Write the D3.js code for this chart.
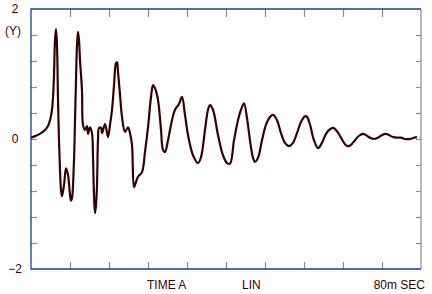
<!DOCTYPE html>
<html>
<head>
<meta charset="utf-8">
<script src="https://cdn.jsdelivr.net/npm/d3@7"></script>
<style>
  body { margin: 0; background: #fff; }
  text { font-family: "Liberation Sans", Arial, sans-serif; font-size: 12px; fill: #3a0000; }
</style>
</head>
<body>
<div id="chart"></div>
<script>
// time in ms
var times = [0, 1.03, 2.05, 2.87, 3.49, 3.90, 4.31, 4.51, 4.72, 4.92, 5.13, 5.33, 5.54, 5.74, 5.95,
    6.15, 6.36, 6.77, 7.18, 7.59, 8.00, 8.21, 8.41, 8.82, 9.03, 9.23, 9.44, 9.64, 9.85, 10.05,
    10.46, 10.67, 11.08, 11.49, 11.69, 12.10, 12.51, 12.72, 12.92, 13.13, 13.33, 13.54, 13.74, 13.95,
    14.36, 14.56, 15.18, 15.79, 16.21, 16.62, 17.03, 17.44, 17.64, 17.85, 18.26, 18.67, 19.28, 19.90,
    20.31, 20.72, 21.13, 21.54, 21.95, 22.77, 23.38, 24.00, 24.62, 25.03, 25.44, 26.05, 26.67, 27.08,
    27.49, 28.10, 28.92, 29.54, 30.36, 30.97, 31.59, 32.21, 33.23, 34.26, 34.87, 35.69, 36.31, 36.72,
    37.33, 38.36, 39.38, 40.21, 40.82, 41.64, 42.46, 43.08, 43.69, 44.31, 44.92, 45.54, 45.95, 46.56,
    47.38, 48.21, 49.03, 49.64, 50.46, 51.28, 52.10, 52.92, 53.74, 54.56, 55.38, 56.21, 56.62, 57.23,
    58.05, 58.87, 59.69, 60.51, 61.33, 61.95, 62.77, 63.59, 64.41, 65.03, 65.64, 66.46, 67.28, 68.10,
    68.72, 69.54, 70.36, 71.18, 72.00, 72.82, 73.44, 74.26, 75.08, 75.90, 76.72, 77.74, 78.56, 79.18];

// signal (Y)
var values = [0.02, 0.05, 0.09, 0.14, 0.20, 0.29, 0.45, 0.63, 0.98, 1.52, 1.69, 1.45, 0.60, -0.02, -0.48,
    -0.78, -0.88, -0.71, -0.45, -0.55, -0.86, -0.95, -0.91, -0.32, 0.29, 0.91, 1.45, 1.65, 1.52, 1.22,
    0.75, 0.22, 0.14, 0.20, 0.08, 0.18, 0.09, -0.28, -0.86, -1.14, -1.02, -0.71, -0.02, 0.17,
    0.17, 0.09, 0.23, 0.03, 0.22, 0.45, 0.83, 1.17, 1.18, 1.03, 0.68, 0.34, 0.11, 0.18,
    0.09, -0.09, -0.74, -0.66, -0.58, -0.51, -0.20, 0.18, 0.65, 0.83, 0.78, 0.60, 0.14, -0.17,
    -0.20, -0.02, 0.29, 0.45, 0.54, 0.65, 0.37, 0.06, -0.25, -0.37, -0.28, 0.14, 0.45, 0.52,
    0.45, 0.06, -0.25, -0.37, -0.38, -0.02, 0.29, 0.45, 0.55, 0.32, -0.02, -0.29, -0.35, -0.29,
    -0.02, 0.22, 0.34, 0.37, 0.29, 0.09, -0.06, -0.11, -0.06, 0.09, 0.26, 0.35, 0.34, 0.22,
    -0.02, -0.14, -0.06, 0.08, 0.15, 0.17, 0.12, 0.02, -0.08, -0.11, -0.09, -0.02, 0.05, 0.08,
    0.06, 0.02, 0.00, 0.02, 0.06, 0.08, 0.06, 0.03, 0.02, 0.02, 0.00, 0.00, 0.02, 0.03];

var yLabels = ["2", "0", "-2"];

var svgWidth = 432;
var svgHeight = 294;
var margin = {top: 9, right: 11, bottom: 25, left: 31};
var width = svgWidth - margin.left - margin.right;
var height = svgHeight - margin.top - margin.bottom;

var svg = d3.select("#chart")
    .append("svg")
    .attr("width", svgWidth)
    .attr("height", svgHeight);

var g = svg.append("g")
    .attr("transform", `translate(${margin.left}, ${margin.top})`);

var x = d3.scaleLinear().domain([0, 80]).range([0, width]);
var y = d3.scaleLinear().domain([-2, 2]).range([height, 0]);

var xTicks = d3.range(8, 80, 8);
var yTicks = d3.range(-1.6, 1.7, 0.4);

//Tick marks (inward, grey)
function styleTicks(sel) {
    sel.select(".domain").remove();
    sel.selectAll("line").attr("stroke", "#8a8a8a").attr("stroke-width", 1.2);
}
g.append("g")
    .call(d3.axisBottom(x).tickValues(xTicks).tickSize(8).tickFormat(""))
    .call(styleTicks);
g.append("g")
    .attr("transform", `translate(0, ${height})`)
    .call(d3.axisTop(x).tickValues(xTicks).tickSize(7).tickFormat(""))
    .call(styleTicks);
g.append("g")
    .call(d3.axisRight(y).tickValues(yTicks).tickSize(6).tickFormat(""))
    .call(styleTicks);
g.append("g")
    .attr("transform", `translate(${width}, 0)`)
    .call(d3.axisLeft(y).tickValues(yTicks).tickSize(5).tickFormat(""))
    .call(styleTicks);

//Frame: blue on left, top and bottom, grey on right
g.append("line").attr("x1", width).attr("x2", width).attr("y1", 0).attr("y2", height)
    .attr("stroke", "#8a8a8a").attr("stroke-width", 1.2);
g.append("path")
    .attr("d", `M${width},0H0V${height}H${width}`)
    .attr("fill", "none")
    .attr("stroke", "#1a3f8f")
    .attr("stroke-width", 1.3);

//Signal trace
var data = times.map((t, i) => ({t: t, v: values[i]}));
var line = d3.line()
    .x(d => x(d.t))
    .y(d => y(d.v))
    .curve(d3.curveCatmullRom.alpha(0.5));

g.append("path")
    .datum(data)
    .attr("d", line)
    .attr("fill", "none")
    .attr("stroke", "#300404")
    .attr("stroke-width", 2.2)
    .attr("stroke-linejoin", "round");

//Labels
var yLabelVals = [2, 0, -2];
svg.selectAll(".ylab")
    .data(yLabels)
    .enter()
    .append("text")
    .attr("class", "ylab")
    .attr("x", 15)
    .attr("y", (d, i) => margin.top + y(yLabelVals[i]) + 4)
    .attr("text-anchor", "middle")
    .text(d => d.replace("-", "\u2212"));

svg.append("text").attr("x", 13).attr("y", 35).attr("text-anchor", "middle").text("(Y)");
svg.append("text").attr("x", 147).attr("y", 289).text("TIME A");
svg.append("text").attr("x", 242).attr("y", 289).text("LIN");
svg.append("text").attr("x", 425).attr("y", 289).attr("text-anchor", "end").text("80m SEC");
</script>
</body>
</html>
